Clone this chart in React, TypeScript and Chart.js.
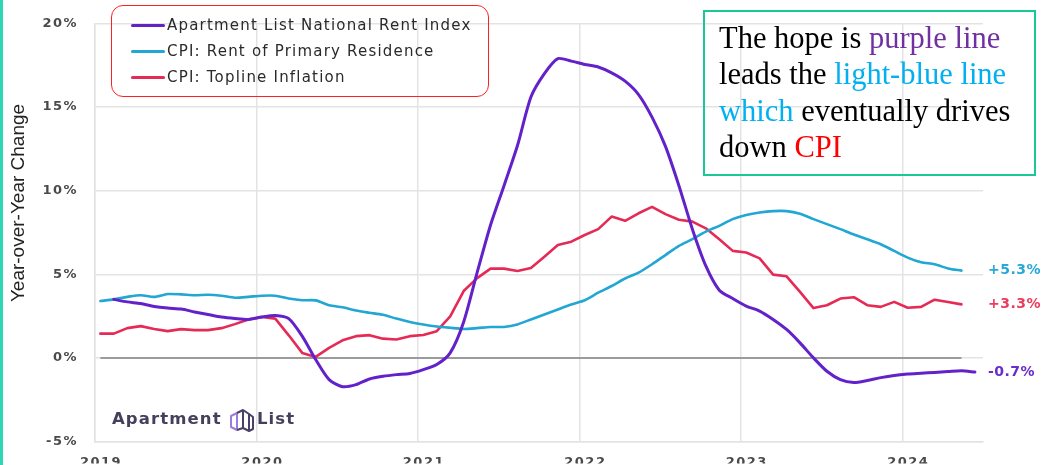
import React, { useEffect, useRef } from 'react';
import { Chart, registerables } from 'chart.js';

Chart.register(...registerables);

// ---------- data ----------
const months = [
  '2019-01', '2019-02', '2019-03', '2019-04', '2019-05', '2019-06', '2019-07', '2019-08', '2019-09', '2019-10', '2019-11', '2019-12',
  '2020-01', '2020-02', '2020-03', '2020-04', '2020-05', '2020-06', '2020-07', '2020-08', '2020-09', '2020-10', '2020-11', '2020-12',
  '2021-01', '2021-02', '2021-03', '2021-04', '2021-05', '2021-06', '2021-07', '2021-08', '2021-09', '2021-10', '2021-11', '2021-12',
  '2022-01', '2022-02', '2022-03', '2022-04', '2022-05', '2022-06', '2022-07', '2022-08', '2022-09', '2022-10', '2022-11', '2022-12',
  '2023-01', '2023-02', '2023-03', '2023-04', '2023-05', '2023-06', '2023-07', '2023-08', '2023-09', '2023-10', '2023-11', '2023-12',
  '2024-01', '2024-02', '2024-03', '2024-04', '2024-05', '2024-06',
];

// Apartment List National Rent Index (YoY %)
const rentIndex: (number | null)[] = [
  null, 3.5, 3.35, 3.25, 3.08, 2.98, 2.92, 2.75, 2.6, 2.45, 2.36, 2.3,
  2.45, 2.54, 2.35, 1.3, -0.1, -1.3, -1.72, -1.6, -1.26, -1.1, -1.0, -0.93,
  -0.7, -0.4, 0.3, 2.15, 5.1, 7.95, 10.3, 12.7, 15.6, 17.0, 17.9, 17.75,
  17.55, 17.4, 17.05, 16.55, 15.75, 14.4, 12.65, 10.3, 7.7, 5.5, 4.05, 3.55,
  3.1, 2.8, 2.3, 1.7, 0.9, 0.0, -0.8, -1.3, -1.47, -1.35, -1.18, -1.05,
  -0.97, -0.92, -0.87, -0.82, -0.77, -0.85,
];

// CPI: Rent of Primary Residence (YoY %)
const cpiRent: number[] = [
  3.4, 3.5, 3.65, 3.75, 3.65, 3.82, 3.8, 3.75, 3.78, 3.72, 3.6, 3.65,
  3.72, 3.72, 3.55, 3.45, 3.44, 3.15, 3.03, 2.83, 2.7, 2.58, 2.35, 2.15,
  2.0, 1.88, 1.8, 1.73, 1.78, 1.85, 1.85, 2.0, 2.3, 2.6, 2.9, 3.2,
  3.45, 3.9, 4.3, 4.75, 5.1, 5.6, 6.15, 6.7, 7.1, 7.55, 7.9, 8.3,
  8.55, 8.7, 8.78, 8.78, 8.62, 8.3, 8.0, 7.7, 7.38, 7.1, 6.8, 6.4,
  6.0, 5.72, 5.6, 5.35, 5.22,
];

// CPI: Topline Inflation (YoY %)
const cpiTopline: number[] = [
  1.45, 1.45, 1.78, 1.9, 1.73, 1.6, 1.72, 1.66, 1.66, 1.78, 2.02, 2.3,
  2.45, 2.35, 1.35, 0.3, 0.06, 0.6, 1.05, 1.3, 1.36, 1.15, 1.1, 1.3,
  1.37, 1.6, 2.48, 4.0, 4.77, 5.34, 5.34, 5.2, 5.38, 6.05, 6.75, 6.95,
  7.35, 7.7, 8.45, 8.2, 8.65, 9.03, 8.6, 8.26, 8.15, 7.75, 7.1, 6.4,
  6.3, 5.95, 4.98, 4.88, 3.95, 2.98, 3.15, 3.55, 3.63, 3.15, 3.05, 3.35,
  3.0, 3.05, 3.48, 3.34, 3.2,
];

const seriesNames = ['Apartment List National Rent Index', 'CPI: Rent of Primary Residence', 'CPI: Topline Inflation'];
const endLabels = ['-0.7%', '+5.3%', '+3.3%'];
const yearTicks = [2019, 2020, 2021, 2022, 2023, 2024];
const pctTicks = [-5, 0, 5, 10, 15, 20];
const yTitle = 'Year-over-Year Change';
const chartTitle = 'Year-over-Year Change in Apartment List National Rent Index vs. CPI (2019-2024)';

// ---------- styles ----------
const SERIES_COLORS = ['#6221C9', '#22A6D4', '#E52A55'];
const LABEL_COLORS = ['#6A2DCB', '#29A7D8', '#EA3D5D'];
const GRID = '#e3e3e3';
const TICK = '#4a4a4a';
const SANS = '"DejaVu Sans", "Liberation Sans", sans-serif';

const monthPos = (m: string) => {
  const [yy, mm] = m.split('-').map(Number);
  return yy + (mm - 1 + 0.4) / 12;
};
const toPoints = (vals: (number | null)[]) => vals.map((v, i) => ({ x: monthPos(months[i]), y: v }));

const overlayPlugin = {
  id: 'overlay',
  beforeDraw(chart: any) {
    chart.ctx.letterSpacing = '1.5px';
  },
  beforeDatasetsDraw(chart: any) {
    const { ctx, scales } = chart;
    const x = scales.x, y = scales.y;
    ctx.save();
    ctx.strokeStyle = '#9b9b9b';
    ctx.lineWidth = 2;
    ctx.beginPath();
    ctx.moveTo(x.getPixelForValue(monthPos(months[0])), y.getPixelForValue(0));
    ctx.lineTo(x.getPixelForValue(monthPos(months[cpiTopline.length - 1])), y.getPixelForValue(0));
    ctx.stroke();
    ctx.restore();
  },
  afterDatasetsDraw(chart: any) {
    const { ctx, chartArea, scales } = chart;
    ctx.save();
    ctx.letterSpacing = '0.5px';
    ctx.font = `bold 14px ${SANS}`;
    ctx.textAlign = 'left';
    ctx.textBaseline = 'middle';
    chart.data.datasets.forEach((ds: any, i: number) => {
      const pts = ds.data.filter((p: any) => p.y !== null);
      const last = pts[pts.length - 1];
      ctx.fillStyle = LABEL_COLORS[i];
      ctx.fillText(endLabels[i], chartArea.right + 5, scales.y.getPixelForValue(last.y));
    });
    ctx.restore();
  },
  afterDraw(chart: any) {
    const { ctx } = chart;
    ctx.save();
    ctx.letterSpacing = '0px';
    ctx.translate(19, 203);
    ctx.rotate(-Math.PI / 2);
    ctx.font = '19px "Liberation Sans", Arial, sans-serif';
    ctx.fillStyle = '#222';
    ctx.textAlign = 'center';
    ctx.textBaseline = 'middle';
    ctx.fillText(yTitle, 0, 0);
    ctx.restore();
    ctx.letterSpacing = '0px';
  },
};

export default function App() {
  const ref = useRef<HTMLCanvasElement>(null);

  useEffect(() => {
    const tickFont = { family: SANS, weight: 'bold' as const, size: 13, lineHeight: 1 };
    const chart = new Chart(ref.current!, {
      type: 'line',
      data: {
        datasets: [
          { label: seriesNames[0], data: toPoints(rentIndex), borderColor: SERIES_COLORS[0], borderWidth: 3, tension: 0.25 },
          { label: seriesNames[1], data: toPoints(cpiRent), borderColor: SERIES_COLORS[1], borderWidth: 2.6, tension: 0.25 },
          { label: seriesNames[2], data: toPoints(cpiTopline), borderColor: SERIES_COLORS[2], borderWidth: 2.6, tension: 0 },
        ] as any,
      },
      options: {
        animation: false,
        responsive: false,
        parsing: false as any,
        layout: { padding: { left: 0, right: 58, top: 7, bottom: 0 } },
        plugins: { legend: { display: false }, tooltip: { enabled: false }, title: { display: false } },
        elements: { point: { radius: 0 }, line: { borderCapStyle: 'round', borderJoinStyle: 'round' } },
        scales: {
          x: {
            type: 'linear',
            min: 2019,
            max: 2024.5,
            afterBuildTicks: (s: any) => { s.ticks = yearTicks.map((v) => ({ value: v })); },
            afterFit: (s: any) => { s.height = 22; },
            grid: { color: GRID, lineWidth: 1.5, drawTicks: false },
            border: { color: GRID, width: 1.5 },
            ticks: {
              padding: 15, labelOffset: 6, color: TICK, font: tickFont, maxRotation: 0, autoSkip: false,
              callback: (v: any) => String(v),
            },
          },
          y: {
            min: -5,
            max: 20,
            afterBuildTicks: (s: any) => { s.ticks = pctTicks.map((v) => ({ value: v })); },
            afterFit: (s: any) => { s.width = 95; },
            grid: { color: GRID, lineWidth: 1.5, drawTicks: false },
            border: { color: GRID, width: 1.5 },
            ticks: { padding: 17, color: TICK, font: tickFont, callback: (v: any) => `${v}%` },
          },
        },
      },
      plugins: [overlayPlugin],
    } as any);
    return () => chart.destroy();
  }, []);

  const legendTop = [25, 51, 77];

  return (
    <div style={{ position: 'fixed', left: 0, top: 0, width: 1041, height: 465, overflow: 'hidden', background: '#fff' }}>
      <canvas ref={ref} width={1041} height={465} style={{ position: 'absolute', left: 0, top: 0, width: 1041, height: 465 }} />

      {/* cut-off title at the very top */}
      <div style={{ position: 'absolute', left: 0, width: 1041, top: -18, textAlign: 'center', paddingLeft: 50, boxSizing: 'border-box',
        fontFamily: SANS, fontWeight: 'bold', fontSize: 17, lineHeight: '17px', letterSpacing: 1, color: '#5a5a5a', whiteSpace: 'nowrap' }}>
        {chartTitle}
      </div>

      {/* teal left border */}
      <div style={{ position: 'absolute', left: 0, top: 0, width: 2.5, height: 465, background: '#2FD6B4' }} />

      {/* legend box */}
      <div style={{ position: 'absolute', left: 111, top: 5, width: 378, height: 92, boxSizing: 'border-box',
        border: '1.5px solid #FF2020', borderRadius: 12 }} />
      {seriesNames.map((name, i) => (
        <div key={name} style={{ position: 'absolute', left: 131, top: legendTop[i] - 9, height: 18, display: 'flex', alignItems: 'center', whiteSpace: 'nowrap' }}>
          <div style={{ width: 34, height: 3, background: SERIES_COLORS[i], borderRadius: 1.5, marginRight: 2 }} />
          <span style={{ fontFamily: SANS, fontSize: 15, letterSpacing: 1.2, color: '#2a2a2a' }}>{name}</span>
        </div>
      ))}

      {/* annotation box */}
      <div style={{ position: 'absolute', left: 703, top: 10, width: 333, height: 166, boxSizing: 'border-box',
        border: '2px solid #19C896', padding: '7.5px 0 0 14px', whiteSpace: 'nowrap',
        fontFamily: '"Liberation Serif", "Times New Roman", serif', fontSize: 30.5, lineHeight: '36.5px', color: '#000' }}>
        The hope is <span style={{ color: '#7030A0' }}>purple line</span><br />
        leads the <span style={{ color: '#00B0F0' }}>light-blue line</span><br />
        <span style={{ color: '#00B0F0' }}>which</span> eventually drives<br />
        down <span style={{ color: '#FF0000' }}>CPI</span>
      </div>

      {/* Apartment List logo */}
      <div style={{ position: 'absolute', left: 112, top: 411, fontFamily: SANS, fontWeight: 'bold', fontSize: 16.5, lineHeight: '16.5px', letterSpacing: 1.1, color: '#463f5c', whiteSpace: 'nowrap' }}>
        Apartment
      </div>
      <svg style={{ position: 'absolute', left: 228, top: 407 }} width="27" height="27" viewBox="0 0 27 27">
        <path d="M3 9 L9 6 L9 23 L3 20 Z" fill="none" stroke="#9a7be0" strokeWidth="2" strokeLinejoin="round" />
        <path d="M9 6 L15 3 L21 7 L21 24 L15 21" fill="none" stroke="#4b3f6b" strokeWidth="2" strokeLinejoin="round" />
        <path d="M15 3 L15 21 L9 23" fill="none" stroke="#4b3f6b" strokeWidth="2" strokeLinejoin="round" />
        <path d="M21 7 L25 10 L25 22 L21 24" fill="none" stroke="#4b3f6b" strokeWidth="2" strokeLinejoin="round" />
      </svg>
      <div style={{ position: 'absolute', left: 257, top: 411, fontFamily: SANS, fontWeight: 'bold', fontSize: 16.5, lineHeight: '16.5px', letterSpacing: 1.1, color: '#463f5c', whiteSpace: 'nowrap' }}>
        List
      </div>
    </div>
  );
}
